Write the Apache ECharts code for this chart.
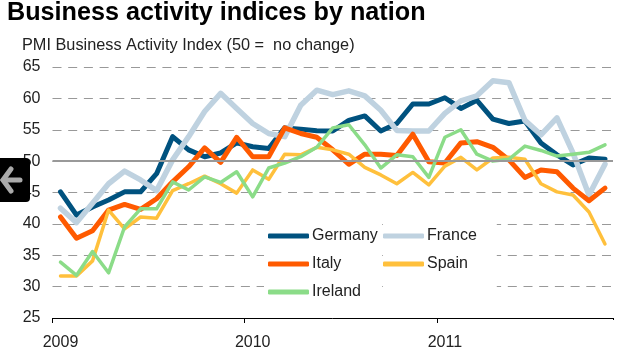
<!DOCTYPE html>
<html>
<head>
<meta charset="utf-8">
<style>
html, body { margin: 0; padding: 0; background: #fff; }
#main { width: 625px; height: 356px; }
</style>
<script src="https://cdn.jsdelivr.net/npm/echarts@6/dist/echarts.min.js"></script>
</head>
<body>
<div id="main"></div>
<script>
// monthly, Jan 2009 - Nov 2011
var months = [
  "2009-01","2009-02","2009-03","2009-04","2009-05","2009-06","2009-07","2009-08","2009-09","2009-10","2009-11","2009-12",
  "2010-01","2010-02","2010-03","2010-04","2010-05","2010-06","2010-07","2010-08","2010-09","2010-10","2010-11","2010-12",
  "2011-01","2011-02","2011-03","2011-04","2011-05","2011-06","2011-07","2011-08","2011-09","2011-10","2011-11"
];
var germany = [45.1,41.4,42.7,43.8,45.1,45.1,48,53.9,51.8,50.7,51.3,52.9,52.3,52,55.3,55.1,54.85,54.8,56.5,57.2,54.8,56,59.1,59.1,60.1,58.4,59.7,56.7,56,56.4,52.9,51,49.4,50.5,50.3];
var france = [42.5,40.2,43.3,46.4,48.4,47,45.3,50.2,53.9,57.9,60.8,58.4,56,54.4,53.9,58.9,61.3,60.6,61.2,60.4,58.1,54.9,54.8,54.8,57.6,59.6,60.4,62.8,62.5,56.5,54.2,56.9,51.3,44.6,49.5];
var italy = [41.1,37.7,38.9,42.2,43.1,42.3,44,46.7,49.1,52.1,49.8,53.8,50.7,50.7,55.3,54.4,53.8,51.8,49.5,51.1,51.1,50.9,54.3,49.9,49.7,52.9,53.1,52.2,50.2,47.4,48.6,48.3,45.7,43.7,45.7];
var spain = [31.7,31.7,34.1,42.2,39.2,41.1,40.9,45.3,46.4,47.6,46.4,44.9,48.6,47.1,51.1,51,52.2,51.8,51.1,49,47.8,46.4,48.2,46.2,49.2,50.6,48.6,50.5,50.6,50.3,46.4,45.1,44.6,41.9,36.8];
var ireland = [33.9,31.8,35.6,32.2,39.5,42.4,42.4,46.7,45.4,47.5,46.6,48.3,44.3,48.9,49.7,50.7,52.2,55.3,55.8,52.6,48.9,51,50.7,47.4,53.8,55,51.1,50,50.3,52.4,51.7,50.8,51.1,51.4,52.6];
var noChange = 50;

var font = '"Liberation Sans", Arial, sans-serif';
var textColor = "#222";

function line(name, data, color, width) {
  return {
    name: name,
    type: "line",
    data: data,
    symbol: "none",
    smooth: false,
    lineStyle: { color: color, width: width, join: "round", cap: "round" },
    itemStyle: { color: color }
  };
}

var series = [
  line("Germany", germany, "#00527f", 5),
  line("France", france, "#bfd2e0", 5.5),
  line("Italy", italy, "#ff5a00", 5),
  line("Spain", spain, "#ffc03c", 3.5),
  line("Ireland", ireland, "#8bdc88", 3.5)
];
series[4].markLine = {
  silent: true,
  symbol: "none",
  label: { show: false },
  animation: false,
  lineStyle: { color: "#999", width: 2, type: "solid" },
  data: [{ yAxis: noChange }]
};

var legendBase = {
  orient: "vertical",
  itemWidth: 41,
  itemHeight: 5,
  itemGap: 10,
  icon: "roundRect",
  backgroundColor: "#fff",
  textStyle: { fontFamily: font, fontSize: 16, color: textColor, padding: [0, 0, 0, -2], lineHeight: 18 }
};

var chart = echarts.init(document.getElementById("main"));
chart.setOption({
  animation: false,
  backgroundColor: "#fff",
  title: [
    { text: "Business activity indices by nation", left: 7, top: 1, padding: 0,
      textStyle: { fontFamily: font, fontWeight: "bold", fontSize: 25.2, color: "#000" } },
    { text: "PMI Business Activity Index (50 =  no change)", left: 22, top: 38, padding: 0,
      textStyle: { fontFamily: font, fontWeight: "normal", fontSize: 16.3, color: textColor } }
  ],
  legend: [
    Object.assign({}, legendBase, { left: 264, top: 220, padding: [7, 0, 3, 4], data: ["Germany", "Italy", "Ireland"] }),
    Object.assign({}, legendBase, { left: 383, top: 220, padding: [7, 20, 31, 0], data: ["France", "Spain"] })
  ],
  grid: { left: 52.5, right: 12, top: 67, bottom: 38 },
  xAxis: {
    type: "category",
    data: months,
    boundaryGap: true,
    axisLine: { lineStyle: { color: "#000", width: 1 } },
    axisTick: { show: true, length: 5, lineStyle: { color: "#000", width: 1 }, interval: function (i) { return i % 12 === 0; } },
    axisLabel: {
      interval: function (i) { return i % 12 === 0; },
      formatter: function (v) { return v.slice(0, 4); },
      margin: 17,
      fontFamily: font, fontSize: 16, color: textColor
    },
    splitLine: { show: false }
  },
  yAxis: {
    type: "value",
    min: 25,
    max: 65,
    interval: 5,
    axisLine: { show: false },
    axisTick: { show: false },
    axisLabel: { margin: 12, fontFamily: font, fontSize: 16, color: textColor },
    splitLine: { lineStyle: { color: "#999", width: 1, type: [9, 6.7] } }
  },
  series: series,
  graphic: [
    // band axis always adds a closing tick, the original has none
    { type: "rect", z: 100, shape: { x: 610, y: 320, width: 6, height: 6 }, style: { fill: "#fff" } },
    { type: "rect", z: 100, shape: { x: 0, y: 158, width: 30, height: 44, r: [0, 4, 4, 0] }, style: { fill: "#000" } },
    { type: "polyline", z: 101, shape: { points: [[11, 169], [3, 180], [11, 191]] }, style: { stroke: "#aaa", lineWidth: 5, fill: null, lineCap: "round" } },
    { type: "line", z: 101, shape: { x1: 4, y1: 180, x2: 20, y2: 180 }, style: { stroke: "#aaa", lineWidth: 5, lineCap: "round" } }
  ]
});
</script>
</body>
</html>
